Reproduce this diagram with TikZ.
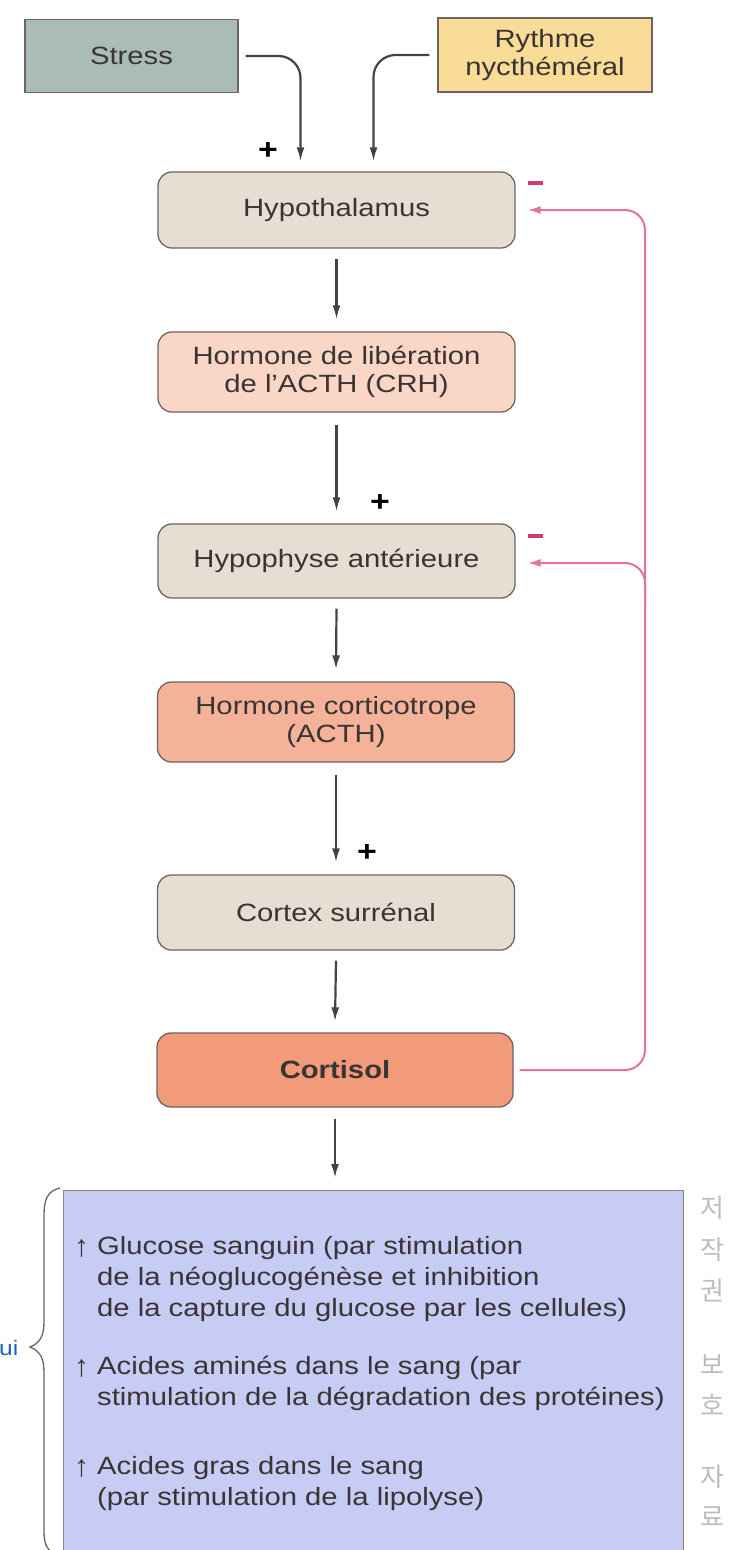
\documentclass[tikz,border=0pt]{standalone}
\usepackage{fontspec}
\setmainfont{Liberation Sans}[FakeStretch=1.17]
\newfontfamily\korfont{Noto Sans CJK KR}
\newfontfamily\arrfont{Liberation Sans}
\usetikzlibrary{arrows.meta,calc}
\definecolor{boxline}{HTML}{6E6560}
\definecolor{txt}{HTML}{3A3434}
\definecolor{arrowc}{HTML}{474242}
\definecolor{stressc}{HTML}{A9BDB6}
\definecolor{rythc}{HTML}{F9DC98}
\definecolor{hypoc}{HTML}{E8DDD3}
\definecolor{crhc}{HTML}{F9D6C6}
\definecolor{acthc}{HTML}{F4B299}
\definecolor{cortc}{HTML}{F19B7A}
\definecolor{bluec}{HTML}{C6CCF3}
\definecolor{pinkc}{HTML}{E57399}
\definecolor{minusc}{HTML}{D23A68}
\definecolor{uic}{HTML}{1F64C0}
\definecolor{wmc}{HTML}{BDBDBD}
\begin{document}
\begin{tikzpicture}[x=1pt,y=-1pt,
  box/.style={draw=boxline, line width=1.3pt, rounded corners=14pt, minimum width=357pt,
    minimum height=76pt, align=center, text=txt, inner sep=0pt,
    font=\fontsize{25}{27.5}\selectfont},
  inbox/.style={draw=boxline, line width=1.3pt, minimum width=213pt, minimum height=73pt,
    align=center, text=txt, inner sep=0pt, font=\fontsize{25}{28}\selectfont},
  flow/.style={draw=arrowc, line width=2.2pt, -{Latex[length=14pt,width=8pt]}},
  fb/.style={draw=pinkc, line width=2pt, rounded corners=20pt},
  fbtip/.style={-{Latex[length=13pt,width=8pt]}},
  plus/.style={text=black, inner sep=0pt, font=\fontsize{29}{29}\selectfont\bfseries},
  minus/.style={fill=minusc, minimum width=15pt, minimum height=4pt, inner sep=0pt},
  ef/.style={anchor=base west, text=txt, inner sep=0pt,
    font=\fontsize{25}{31}\selectfont},
  uparr/.style={anchor=base west, text=txt, inner sep=0pt, font=\arrfont\fontsize{30}{30}\selectfont},
  wm/.style={text=wmc, inner sep=0pt, font=\korfont\fontsize{26}{26}\selectfont},
]
\useasboundingbox (0,0) rectangle (735,1550);
\fill[white] (0,0) rectangle (735,1550);

% input boxes
\node[inbox, fill=stressc] (stress) at (131.5,56) {Stress};
\node[inbox, fill=rythc, minimum width=214pt, minimum height=74pt] (ryth) at (545,55) {Rythme\\nycthéméral};

% main chain
\node[box, fill=hypoc] (hyp) at (336.5,210) {Hypothalamus};
\node[box, fill=crhc, minimum height=80pt] (crh) at (336.5,372) {Hormone de libération\\de l'ACTH (CRH)};
\node[box, fill=hypoc, minimum height=74pt] (pit) at (336.5,561) {Hypophyse antérieure};
\node[box, fill=acthc, minimum height=80pt] (acth) at (336,722) {Hormone corticotrope\\(ACTH)};
\node[box, fill=hypoc, minimum height=75pt] (ctx) at (336,912.5) {Cortex surrénal};
\node[box, fill=cortc, minimum height=74pt, minimum width=356pt,
  font=\fontsize{25}{27}\selectfont\bfseries] (cort) at (335,1070) {Cortisol};

% effects box
\node[draw=boxline!80, line width=1.2pt, fill=bluec, minimum width=620pt, minimum height=375pt,
  anchor=north west, inner sep=0pt] (eff) at (63,1190) {};

% inputs to hypothalamus
\coordinate (sin) at ($(hyp.north)+(-36,-10)$);
\coordinate (rin) at ($(hyp.north)+(37,-10)$);
\draw[flow, rounded corners=22pt] ([xshift=7pt]stress.east) -| (sin);
\draw[flow, rounded corners=22pt] ([xshift=-8pt]ryth.west) -| (rin);
\node[plus] (p1) at (268,151) {+};

% chain arrows
\draw[flow] ([yshift=-10pt]hyp.south) -- ([yshift=12pt]crh.north);
\draw[flow] ([yshift=-12pt]crh.south) -- ([yshift=12pt]pit.north);
\node[plus] (p2) at (380,503) {+};
\draw[flow] ([yshift=-10pt]pit.south) -- ([yshift=12pt]acth.north);
\draw[flow] ([yshift=-12pt]acth.south) -- ([yshift=12pt]ctx.north);
\node[plus] (p3) at (367,853) {+};
\draw[flow] ([yshift=-10pt]ctx.south) -- ([yshift=11pt]cort.north);
\coordinate (effin) at ($(eff.north -| cort.south)+(0,-12)$);
\draw[flow] ([yshift=-11pt]cort.south) -- (effin);

% negative feedback
\coordinate (fbx) at (645,600);
\draw[fb, fbtip] ([xshift=6pt]cort.east) -| (fbx) |- ([xshift=12pt]hyp.east);
\draw[fb, fbtip] ([yshift=-5pt]fbx) |- ([xshift=12pt,yshift=-2pt]pit.east);
\node[minus] (m1) at (535,183) {};
\node[minus] (m2) at (535,536) {};

% effects text
\node[uparr] (a1) at (74,1256) {↑};
\node[ef] (t1a) at (97,1254) {Glucose sanguin (par stimulation};
\node[ef] (t1b) at (97,1285) {de la néoglucogénèse et inhibition};
\node[ef] (t1c) at (97,1316) {de la capture du glucose par les cellules)};
\node[uparr] (a2) at (74,1376) {↑};
\node[ef] (t2a) at (97,1374) {Acides aminés dans le sang (par};
\node[ef] (t2b) at (97,1405) {stimulation de la dégradation des protéines)};
\node[uparr] (a3) at (74,1476) {↑};
\node[ef] (t3a) at (97,1474) {Acides gras dans le sang};
\node[ef] (t3b) at (97,1505) {(par stimulation de la lipolyse)};

% brace and cut label
\draw[boxline, line width=1.3pt] (60,1188) .. controls (47,1191) and (44,1200) .. (44,1216)
  -- (44,1322) .. controls (44,1336) and (40,1343) .. (30,1347)
  .. controls (40,1351) and (44,1358) .. (44,1372) -- (44,1532)
  .. controls (44,1546) and (48,1552) .. (60,1556);
\node[anchor=west, text=uic, inner sep=0pt, font=\fontsize{21}{21}\selectfont] (ui) at (-1,1348) {ui};

% watermark
\node[wm] (w1) at (712,1208) {저};
\node[wm] (w2) at (712,1250) {작};
\node[wm] (w3) at (712,1290) {권};
\node[wm] (w4) at (712,1365) {보};
\node[wm] (w5) at (712,1405) {호};
\node[wm] (w6) at (712,1477) {자};
\node[wm] (w7) at (712,1517) {료};
\end{tikzpicture}
\end{document}
